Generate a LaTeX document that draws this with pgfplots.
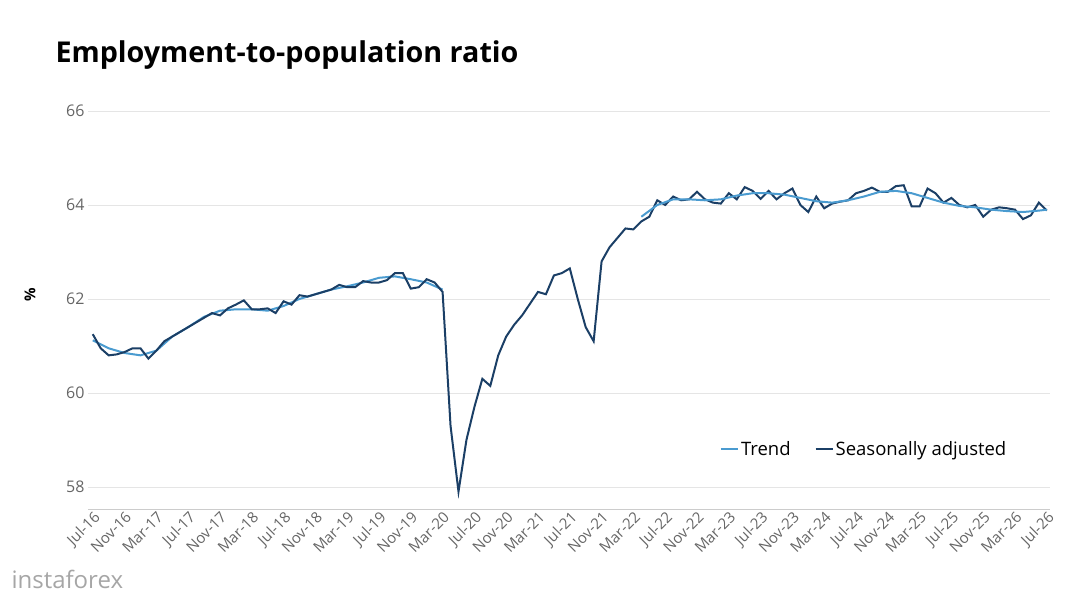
\documentclass[border=0pt]{standalone}
\usepackage{pgfplots}
\pgfplotsset{compat=1.18}
\usepackage{fontspec}
\setmainfont{Open Sans}
\definecolor{trend}{HTML}{4A9BD0}
\definecolor{sa}{HTML}{1B3F66}
\definecolor{tickc}{HTML}{666666}
\begin{document}
\begin{tikzpicture}[x=1pt,y=1pt]
\useasboundingbox (0,0) rectangle (1074,603);
\node[anchor=west,font=\fontsize{28.7}{31}\selectfont\bfseries] at (52,548) {Employment-to-population ratio};
\node[font=\fontsize{15}{16}\selectfont\bfseries,rotate=90] at (30,308) {\%};
\node[anchor=west,text=gray!70,font=\fontsize{24}{26}\selectfont] at (8,24) {instaforex};
\begin{axis}[at={(88pt,94pt)},anchor=south west,scale only axis,width=962pt,height=398pt,
 xmin=-0.6,xmax=120.4,ymin=57.53,ymax=66,
 ytick={58,60,62,64,66},
 xtick={0,4,...,120},
 xticklabels={Jul-16,Nov-16,Mar-17,Jul-17,Nov-17,Mar-18,Jul-18,Nov-18,Mar-19,Jul-19,Nov-19,Mar-20,Jul-20,Nov-20,Mar-21,Jul-21,Nov-21,Mar-22,Jul-22,Nov-22,Mar-23,Jul-23,Nov-23,Mar-24,Jul-24,Nov-24,Mar-25,Jul-25,Nov-25,Mar-26,Jul-26},
 xticklabel style={rotate=45,anchor=north east,font=\fontsize{15}{16}\selectfont,text=tickc,inner sep=1pt},
 yticklabel style={font=\fontsize{16}{17}\selectfont,text=tickc},
 /pgf/number format/assume math mode=true,
 ymajorgrids, grid style={gray!20},
 axis x line*=bottom, axis y line*=left,
 x axis line style={gray!40}, y axis line style={draw=none},
 major tick length=0pt,
 legend style={at={(0.96,0.12)},anchor=south east,draw=none,fill=none,font=\fontsize{18.5}{20}\selectfont,legend columns=2,/tikz/every even column/.append style={column sep=22pt}},
 legend cell align=left,
]
\addplot[trend,line width=2pt] coordinates {(0,61.12)(2,60.95)(4,60.85)(6,60.8)(8,60.9)(10,61.2)(12,61.4)(14,61.62)(16,61.75)(18,61.78)(20,61.78)(22,61.75)(24,61.85)(26,62.0)(28,62.1)(30,62.2)(32,62.27)(34,62.35)(36,62.45)(38,62.48)(40,62.42)(42,62.35)(44,62.2)};
\addlegendentry{Trend}
\addplot[sa,line width=2pt] coordinates {(0,61.25)(1,60.95)(2,60.8)(3,60.82)(4,60.87)(5,60.95)(6,60.95)(7,60.73)(8,60.9)(9,61.1)(10,61.2)(11,61.3)(12,61.4)(13,61.5)(14,61.6)(15,61.7)(16,61.65)(17,61.8)(18,61.88)(19,61.97)(20,61.78)(21,61.78)(22,61.8)(23,61.7)(24,61.95)(25,61.88)(26,62.08)(27,62.05)(28,62.1)(29,62.15)(30,62.2)(31,62.3)(32,62.25)(33,62.25)(34,62.38)(35,62.35)(36,62.35)(37,62.4)(38,62.55)(39,62.55)(40,62.22)(41,62.25)(42,62.42)(43,62.35)(44,62.15)(45,59.3)(46,57.9)(47,59.0)(48,59.7)(49,60.3)(50,60.15)(51,60.8)(52,61.2)(53,61.45)(54,61.65)(55,61.9)(56,62.15)(57,62.1)(58,62.5)(59,62.55)(60,62.65)(61,62.0)(62,61.4)(63,61.1)(64,62.8)(65,63.1)(66,63.3)(67,63.5)(68,63.48)(69,63.65)(70,63.75)(71,64.1)(72,64.0)(73,64.18)(74,64.1)(75,64.12)(76,64.28)(77,64.12)(78,64.05)(79,64.03)(80,64.25)(81,64.12)(82,64.38)(83,64.3)(84,64.13)(85,64.3)(86,64.12)(87,64.25)(88,64.35)(89,64.0)(90,63.85)(91,64.18)(92,63.93)(93,64.03)(94,64.07)(95,64.1)(96,64.25)(97,64.3)(98,64.37)(99,64.28)(100,64.28)(101,64.4)(102,64.42)(103,63.97)(104,63.97)(105,64.35)(106,64.25)(107,64.05)(108,64.15)(109,64.0)(110,63.95)(111,64.0)(112,63.75)(113,63.9)(114,63.95)(115,63.93)(116,63.9)(117,63.7)(118,63.78)(119,64.05)(120,63.88)};
\addlegendentry{Seasonally adjusted}
\addplot[trend,line width=2pt,forget plot] coordinates {(69,63.75)(71,64.0)(73,64.12)(75,64.12)(77,64.1)(79,64.12)(81,64.2)(83,64.25)(85,64.25)(87,64.22)(89,64.15)(91,64.08)(93,64.05)(95,64.1)(97,64.18)(99,64.28)(101,64.3)(103,64.25)(105,64.15)(107,64.05)(109,63.98)(111,63.95)(113,63.9)(115,63.87)(117,63.85)(119,63.88)(120,63.9)};
\end{axis}
\end{tikzpicture}
\end{document}
